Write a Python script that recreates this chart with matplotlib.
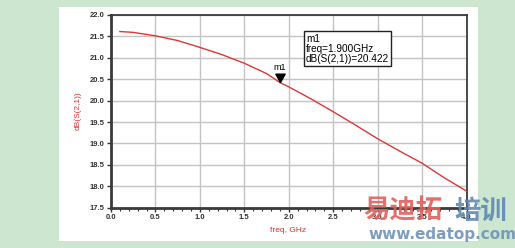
import matplotlib
matplotlib.use("Agg")
import matplotlib.pyplot as plt
from matplotlib.patches import Rectangle
from matplotlib.path import Path
import numpy as np

freq = [0.1, 0.25, 0.5, 0.75, 1.0, 1.25, 1.5, 1.75, 1.9, 2.0, 2.25, 2.5, 2.75, 3.0, 3.25, 3.5, 3.75, 4.0]
db_s21 = [21.61, 21.59, 21.51, 21.40, 21.24, 21.07, 20.87, 20.63, 20.422, 20.32, 20.04, 19.74, 19.43, 19.11, 18.82, 18.54, 18.20, 17.89]
x_ticks = [0.0, 0.5, 1.0, 1.5, 2.0, 2.5, 3.0, 3.5, 4.0]
y_ticks = [17.5, 18.0, 18.5, 19.0, 19.5, 20.0, 20.5, 21.0, 21.5, 22.0]
marker_name = "m1"
marker_freq = 1.9
marker_val = 20.422

W, H = 515, 248
fig = plt.figure(figsize=(W / 100, H / 100), dpi=100)
fig.patch.set_facecolor("#cce6d0")

def fx(px):
    return px / W

def fy(py):
    return 1 - py / H

# white panel
fig.patches.append(Rectangle((fx(59), fy(241)), 419 / W, 234 / H,
                             transform=fig.transFigure, facecolor="white",
                             edgecolor="none", zorder=-5))

AX_L, AX_R, AX_T, AX_B = 111, 466.5, 14.8, 207.8
ax = fig.add_axes([fx(AX_L), fy(AX_B), (AX_R - AX_L) / W, (AX_B - AX_T) / H])
ax.set_zorder(1)
ax.set_facecolor("white")
ax.set_xlim(0, 4.0)
ax.set_ylim(17.5, 22.0)
ax.set_xticks(x_ticks)
ax.set_xticklabels([f"{v:.1f}" for v in x_ticks])
ax.set_yticks(y_ticks)
ax.set_yticklabels([f"{v:.1f}" for v in y_ticks])
ax.set_xticks(np.arange(0, 4.01, 0.1), minor=True)
ax.grid(True, which="major", color="#c4c4c4", lw=1.0)
ax.set_axisbelow(True)

for lbl in ax.get_xticklabels() + ax.get_yticklabels():
    lbl.set_fontfamily("Liberation Sans")
    lbl.set_fontweight("bold")
    lbl.set_fontsize(5.5)
    lbl.set_color("#333333")
ax.tick_params(axis="both", which="major", length=3, width=1.0, color="#333333", pad=1.5)
ax.tick_params(axis="x", which="minor", length=2.5, width=0.8, color="#333333")

ax.spines["left"].set_linewidth(2.0)
ax.spines["bottom"].set_linewidth(2.0)
ax.spines["top"].set_linewidth(1.3)
ax.spines["right"].set_linewidth(1.3)
for s in ax.spines.values():
    s.set_color("#3a3a3a")

ax.plot(freq, db_s21, color="#e03636", lw=1.0, zorder=3)

# marker triangle (tip at the point)
tri = Path([(-1, 1.8), (1, 1.8), (0, 0), (-1, 1.8)],
           [Path.MOVETO, Path.LINETO, Path.LINETO, Path.CLOSEPOLY])
ax.plot([marker_freq], [marker_val], marker=tri, markersize=12,
        color="black", zorder=4, linestyle="none")
ax.annotate(marker_name, xy=(marker_freq, marker_val), xytext=(0, 7.5),
            textcoords="offset points", ha="center", va="bottom",
            fontsize=6.5, family="Liberation Sans", color="black")

ax.text((306 - AX_L) / (AX_R - AX_L), (AX_B - 48.5) / (AX_B - AX_T),
        f"{marker_name}\nfreq={marker_freq:.3f}GHz\ndB(S(2,1))={marker_val:.3f}",
        transform=ax.transAxes,
        ha="left", va="center", fontsize=7.2, family="Liberation Sans",
        linespacing=1.0, zorder=5,
        bbox=dict(boxstyle="square,pad=0.22", facecolor="white",
                  edgecolor="#222222", lw=1.0))

fig.text(fx(78), fy(111), "dB(S(2,1))", rotation=90, ha="center", va="center",
         fontsize=6, family="Liberation Sans", color="#e03030")
fig.text(fx(288), fy(231), "freq, GHz", ha="center", va="center",
         fontsize=6, family="Liberation Sans", color="#e03030")

# watermark (drawn above the axes)
cjk = ["Noto Sans CJK SC", "DejaVu Sans"]
fig.text(fx(403), fy(211), "易迪拓", ha="center", va="center", fontsize=19,
         family=cjk, fontweight="bold", color="#e0605a", alpha=0.9, zorder=10)
fig.text(fx(481), fy(211), "培训", ha="center", va="center", fontsize=19,
         family=cjk, fontweight="bold", color="#6088b5", alpha=0.9, zorder=10)
fig.text(fx(442), fy(234), "www.edatop.com", ha="center", va="center",
         fontsize=11, family="DejaVu Sans", fontweight="bold",
         color="#7093b8", alpha=0.9, zorder=10)

fig.savefig("out.png", dpi=100, facecolor=fig.get_facecolor())
